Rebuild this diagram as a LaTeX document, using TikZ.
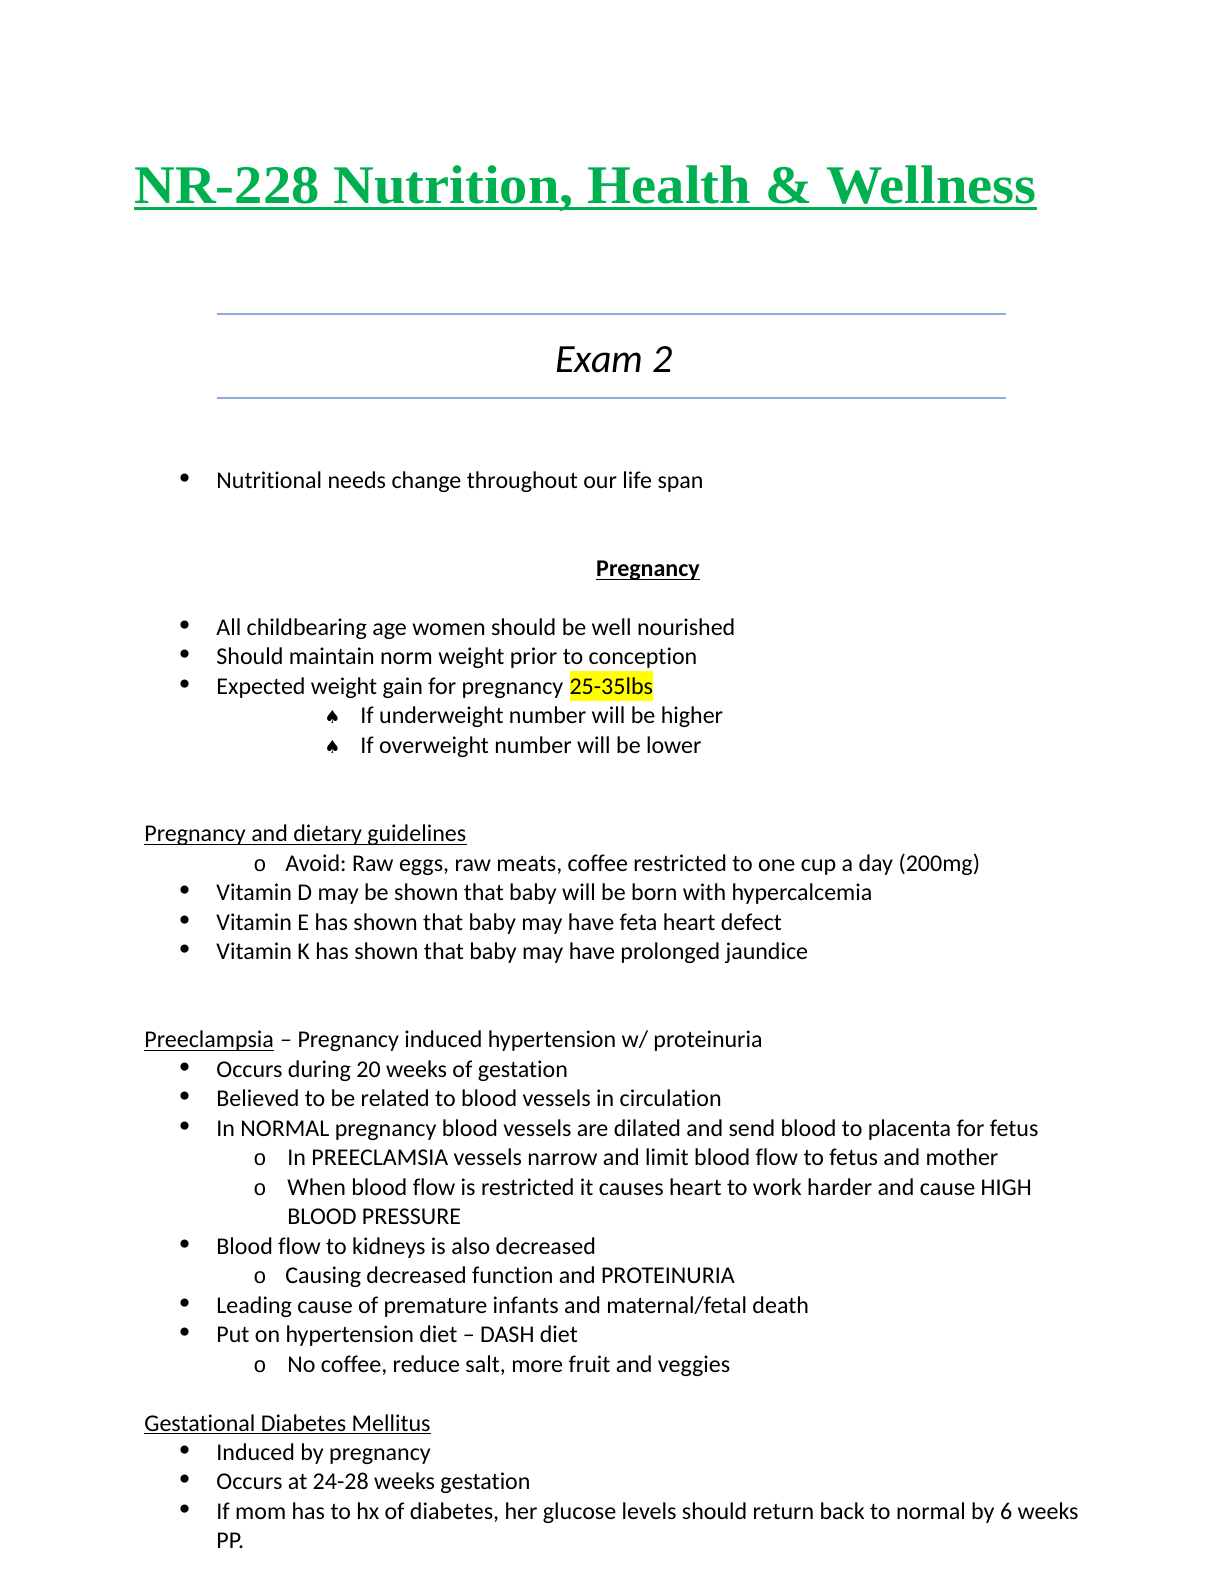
\documentclass[tikz,border=0pt]{standalone}
\usepackage{fontspec}
\usepackage{xcolor}
\setmainfont{Carlito}[Ligatures={NoCommon,NoRequired}]
\newfontfamily\titlefont{Liberation Serif}
\newfontfamily\symfont{DejaVu Sans}
\newfontfamily\circfont{Liberation Mono}
\definecolor{titlegreen}{HTML}{00B050}
\definecolor{rulecolor}{HTML}{8EAADB}
\definecolor{hlyellow}{HTML}{FFFF00}
\usetikzlibrary{positioning}
\frenchspacing

% baseline of text row #1 (in px of the page)
\newcommand{\row}[1]{488+29.47*#1}

\begin{document}
\begin{tikzpicture}[x=0.5bp,y=-0.5bp,
    txt/.style={anchor=base west,inner sep=0pt,font=\fontsize{12bp}{14.65bp}\selectfont},
    dotmark/.style={txt,font=\fontsize{14bp}{14.65bp}\symfont},
    circmark/.style={txt,font=\fontsize{11bp}{14.65bp}\circfont},
    spademark/.style={txt,font=\fontsize{9bp}{14.65bp}\symfont},
    hl/.style={txt,fill=hlyellow,text height=11.4bp,text depth=3.2bp},
    uline/.style={line width=0.6bp},
    rulestyle/.style={rulecolor,line width=1bp}]
  \useasboundingbox (0,0) rectangle (1224,1584);

  % title and header
  \node[anchor=base west,inner sep=0pt,text=titlegreen] (title) at (134,203)
    {\resizebox{451bp}{\height}{\titlefont\bfseries\fontsize{27.2bp}{32bp}\selectfont NR-228 Nutrition, Health \& Wellness}};
  \draw[titlegreen,line width=1.5bp] ([yshift=-2.5bp]title.base west) -- ([yshift=-2.5bp]title.base east);
  \draw[rulestyle] (217,314) -- (1006,314);
  \node[anchor=base,inner sep=0pt,font=\fontsize{20bp}{24bp}\itshape] (exam) at (614,372) {Exam 2};
  \draw[rulestyle] (217,398) -- (1006,398);

  \node[dotmark] (b0) at (176,{\row{0}}) {•};
  \node[txt] (t0) at (216,{\row{0}}) {Nutritional needs change throughout our life span};

  % Pregnancy
  \node[txt,anchor=base,font=\fontsize{12bp}{14.65bp}\bfseries] (preg) at (648,{\row{3}}) {Pregnancy};
  \draw[line width=0.9bp] ([yshift=-1.5bp]preg.base west) -- ([yshift=-1.5bp]preg.base east);
  \node[dotmark] (b5) at (176,{\row{5}}) {•};
  \node[txt] (t5) at (216,{\row{5}}) {All childbearing age women should be well nourished};
  \node[dotmark] (b6) at (176,{\row{6}}) {•};
  \node[txt] (t6) at (216,{\row{6}}) {Should maintain norm weight prior to conception};
  \node[dotmark] (b7) at (176,{\row{7}}) {•};
  \node[txt] (t7) at (216,{\row{7}}) {Expected weight gain for pregnancy};
  \node[hl] (gain) at ([xshift=2.7bp]t7.base east) {25-35lbs};
  \node[spademark] (s8) at (324,{\row{8}}) {♠};
  \node[txt] (t8) at (360,{\row{8}}) {If underweight number will be higher};
  \node[spademark] (s9) at (324,{\row{9}}) {♠};
  \node[txt] (t9) at (360,{\row{9}}) {If overweight number will be lower};

  % dietary guidelines
  \node[txt] (diet) at (144,{\row{12}}) {Pregnancy and dietary guidelines};
  \draw[uline] ([yshift=-1.3bp]diet.base west) -- ([yshift=-1.3bp]diet.base east);
  \node[circmark] (c13) at (253,{\row{13}}) {o};
  \node[txt] (t13) at (285,{\row{13}}) {Avoid: Raw eggs, raw meats, coffee restricted to one cup a day (200mg)};
  \node[dotmark] (b14) at (176,{\row{14}}) {•};
  \node[txt] (t14) at (216,{\row{14}}) {Vitamin D may be shown that baby will be born with hypercalcemia};
  \node[dotmark] (b15) at (176,{\row{15}}) {•};
  \node[txt] (t15) at (216,{\row{15}}) {Vitamin E has shown that baby may have feta heart defect};
  \node[dotmark] (b16) at (176,{\row{16}}) {•};
  \node[txt] (t16) at (216,{\row{16}}) {Vitamin K has shown that baby may have prolonged jaundice};

  % Preeclampsia
  \node[txt] (pre) at (144,{\row{19}}) {Preeclampsia};
  \draw[uline] ([yshift=-1.3bp]pre.base west) -- ([yshift=-1.3bp]pre.base east);
  \node[txt] (pre2) at ([xshift=2.7bp]pre.base east) {– Pregnancy induced hypertension w/ proteinuria};
  \node[dotmark] (b20) at (176,{\row{20}}) {•};
  \node[txt] (t20) at (216,{\row{20}}) {Occurs during 20 weeks of gestation};
  \node[dotmark] (b21) at (176,{\row{21}}) {•};
  \node[txt] (t21) at (216,{\row{21}}) {Believed to be related to blood vessels in circulation};
  \node[dotmark] (b22) at (176,{\row{22}}) {•};
  \node[txt] (t22) at (216,{\row{22}}) {In NORMAL pregnancy blood vessels are dilated and send blood to placenta for fetus};
  \node[circmark] (c23) at (253,{\row{23}}) {o};
  \node[txt] (t23) at (287,{\row{23}}) {In PREECLAMSIA vessels narrow and limit blood flow to fetus and mother};
  \node[circmark] (c24) at (253,{\row{24}}) {o};
  \node[txt] (t24) at (287,{\row{24}}) {When blood flow is restricted it causes heart to work harder and cause HIGH};
  \node[txt] (t25) at (287,{\row{25}}) {BLOOD PRESSURE};
  \node[dotmark] (b26) at (176,{\row{26}}) {•};
  \node[txt] (t26) at (216,{\row{26}}) {Blood flow to kidneys is also decreased};
  \node[circmark] (c27) at (253,{\row{27}}) {o};
  \node[txt] (t27) at (285,{\row{27}}) {Causing decreased function and PROTEINURIA};
  \node[dotmark] (b28) at (176,{\row{28}}) {•};
  \node[txt] (t28) at (216,{\row{28}}) {Leading cause of premature infants and maternal/fetal death};
  \node[dotmark] (b29) at (176,{\row{29}}) {•};
  \node[txt] (t29) at (216,{\row{29}}) {Put on hypertension diet – DASH diet};
  \node[circmark] (c30) at (253,{\row{30}}) {o};
  \node[txt] (t30) at (287,{\row{30}}) {No coffee, reduce salt, more fruit and veggies};

  % Gestational diabetes
  \node[txt] (gdm) at (144,{\row{32}}) {Gestational Diabetes Mellitus};
  \draw[uline] ([yshift=-1.3bp]gdm.base west) -- ([yshift=-1.3bp]gdm.base east);
  \node[dotmark] (b33) at (176,{\row{33}}) {•};
  \node[txt] (t33) at (216,{\row{33}}) {Induced by pregnancy};
  \node[dotmark] (b34) at (176,{\row{34}}) {•};
  \node[txt] (t34) at (216,{\row{34}}) {Occurs at 24-28 weeks gestation};
  \node[dotmark] (b35) at (176,{\row{35}}) {•};
  \node[txt] (t35) at (216,{\row{35}}) {If mom has to hx of diabetes, her glucose levels should return back to normal by 6 weeks};
  \node[txt] (t36) at (216,{\row{36}}) {PP.};
\end{tikzpicture}
\end{document}
